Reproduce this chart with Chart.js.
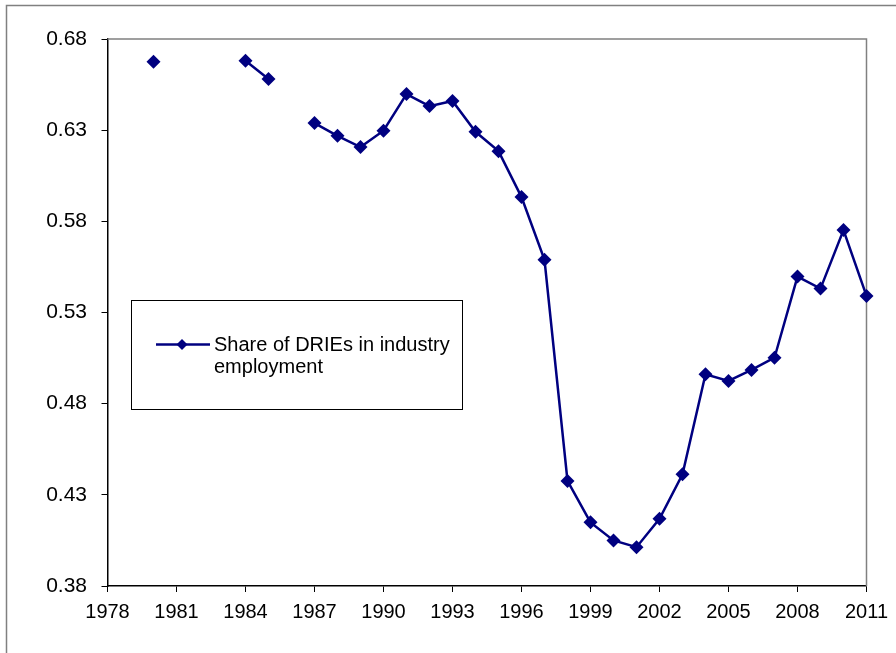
<!DOCTYPE html>
<html>
<head>
<meta charset="utf-8">
<script src="https://cdn.jsdelivr.net/npm/chart.js@4"></script>
<style>
  body { margin: 0; background: #fff; }
  canvas { display: block; }
</style>
</head>
<body>
<canvas id="shareChart" width="896" height="653"></canvas>
<script>
// years 1980-2011, gaps where no observation
const years = [1980, 1981, 1982, 1983, 1984, 1985, 1986, 1987, 1988, 1989, 1990,
  1991, 1992, 1993, 1994, 1995, 1996, 1997, 1998, 1999, 2000,
  2001, 2002, 2003, 2004, 2005, 2006, 2007, 2008, 2009, 2010, 2011];
const shareDRIEs = [0.6675, null, null, null, 0.6681, 0.6581, null, 0.6339, 0.6269, 0.6207, 0.6297,
  0.6498, 0.6432, 0.6460, 0.6291, 0.6185, 0.5933, 0.5589, 0.4376, 0.4149, 0.4050,
  0.4013, 0.4169, 0.4413, 0.4961, 0.4925, 0.4985, 0.5052, 0.5497, 0.5431, 0.5752, 0.5391];
const seriesName = ['Share of DRIEs in industry', 'employment'];
const xMin = 1978, xMax = 2011, xStep = 3;
const yMin = 0.38, yMax = 0.68, yStep = 0.05;

const navy = '#000080';
const family = "'Liberation Sans', Arial, sans-serif";

// frame, gray plot edges and the boxed legend
const decorations = {
  id: 'decorations',
  beforeDraw(chart) {
    const c = chart.ctx;
    c.save();
    c.strokeStyle = '#808080';
    c.lineWidth = 1.5;
    c.strokeRect(6.5, 5.5, 1000, 1000);
    c.restore();
  },
  beforeDatasetsDraw(chart) {
    const { ctx: c, chartArea: a } = chart;
    c.save();
    c.strokeStyle = '#808080';
    c.lineWidth = 1.5;
    c.beginPath();
    c.moveTo(a.left, a.top);
    c.lineTo(a.right, a.top);
    c.lineTo(a.right, a.bottom);
    c.stroke();
    c.restore();
  },
  afterDraw(chart) {
    const c = chart.ctx;
    c.save();
    c.fillStyle = '#fff';
    c.fillRect(131.5, 300.5, 331, 109);
    c.strokeStyle = '#000';
    c.lineWidth = 1;
    c.strokeRect(131.5, 300.5, 331, 109);

    c.strokeStyle = navy;
    c.lineWidth = 2.5;
    c.beginPath();
    c.moveTo(156, 344.5);
    c.lineTo(210, 344.5);
    c.stroke();
    c.fillStyle = navy;
    c.beginPath();
    c.moveTo(182, 339);
    c.lineTo(187.5, 344.5);
    c.lineTo(182, 350);
    c.lineTo(176.5, 344.5);
    c.closePath();
    c.fill();

    c.fillStyle = '#000';
    c.font = `20px ${family}`;
    c.textBaseline = 'alphabetic';
    c.fillText(seriesName[0], 214, 351);
    c.fillText(seriesName[1], 214, 373);
    c.restore();
  }
};

new Chart(document.getElementById('shareChart'), {
  type: 'line',
  data: {
    labels: years,
    datasets: [{
      label: seriesName.join(' '),
      data: years.map((yr, i) => ({ x: yr, y: shareDRIEs[i] })),
      borderColor: navy,
      backgroundColor: navy,
      borderWidth: 2.5,
      pointStyle: 'rectRot',
      pointRadius: 7,
      pointBorderWidth: 0,
      spanGaps: false,
      clip: false,
      tension: 0
    }]
  },
  options: {
    responsive: false,
    animation: false,
    layout: { padding: { top: 39, right: 27, left: 0, bottom: 0 } },
    plugins: { legend: { display: false }, tooltip: { enabled: false } },
    scales: {
      x: {
        type: 'linear',
        min: xMin, max: xMax,
        afterFit: s => { s.height = 67; },
        grid: { drawOnChartArea: false, tickLength: 6, color: '#000', tickColor: '#000' },
        border: { color: '#000', width: 1.5 },
        ticks: { stepSize: xStep, padding: 8, color: '#000', font: { family, size: 20 }, callback: v => String(v), maxRotation: 0, autoSkip: false }
      },
      y: {
        min: yMin, max: yMax,
        afterFit: s => { s.width = 107.5; },
        grid: { drawOnChartArea: false, tickLength: 6, color: '#000', tickColor: '#000' },
        border: { color: '#000', width: 1.5 },
        ticks: { stepSize: yStep, padding: 14.5, color: '#000', font: { family, size: 21 }, callback: v => v.toFixed(2) }
      }
    }
  },
  plugins: [decorations]
});
</script>
</body>
</html>
